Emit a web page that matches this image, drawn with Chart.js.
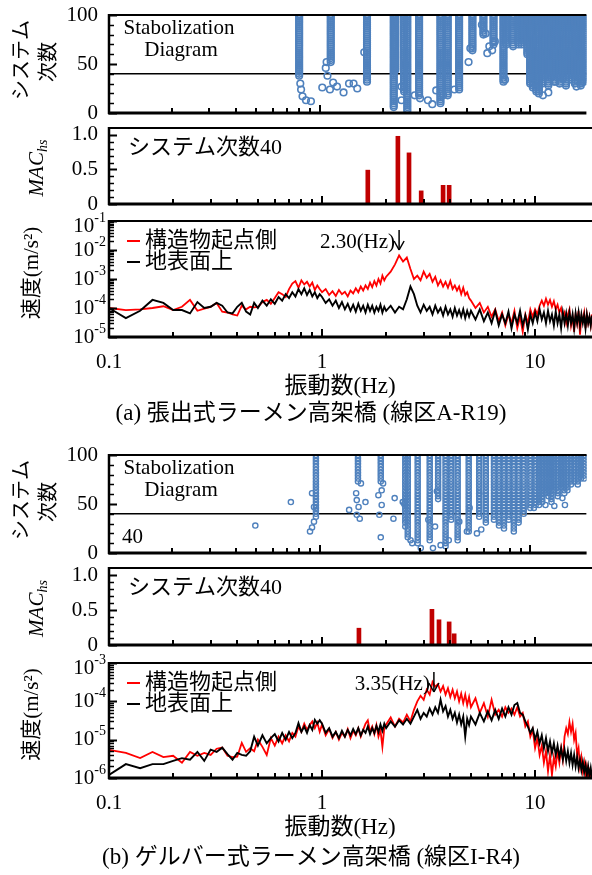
<!DOCTYPE html>
<html>
<head>
<meta charset="utf-8">
<script src="https://cdn.jsdelivr.net/npm/chart.js@4.4.0/dist/chart.umd.min.js"></script>
<style>
  body { margin: 0; background: #fff; width: 592px; height: 875px; position: relative; overflow: hidden; }
  canvas { position: absolute; left: 0; }
</style>
</head>
<body>
<canvas id="stabA" width="592" height="130" style="top:0px"></canvas>
<canvas id="macA" width="592" height="100" style="top:118px"></canvas>
<canvas id="specA" width="592" height="220" style="top:210px"></canvas>
<canvas id="stabB" width="592" height="130" style="top:440px"></canvas>
<canvas id="macB" width="592" height="100" style="top:558px"></canvas>
<canvas id="specB" width="592" height="225" style="top:650px"></canvas>
<script>
// ---- data ----
// frequency grid (Hz) shared by the four spectra
const freqs = [
  0.10, 0.12, 0.14, 0.16, 0.18, 0.20, 0.22, 0.24, 0.26, 0.28, 0.30, 0.32, 0.34, 0.36, 0.38, 0.40, 0.42, 0.44, 0.46, 0.48,
  0.50, 0.525, 0.55, 0.575, 0.60, 0.625, 0.65, 0.675, 0.70, 0.725, 0.75, 0.775, 0.80, 0.825, 0.85, 0.875, 0.90, 0.925, 0.95, 0.975,
  1.00, 1.04, 1.08, 1.12, 1.16, 1.20, 1.24, 1.28, 1.32, 1.36, 1.40, 1.44, 1.48, 1.52, 1.56, 1.60, 1.64, 1.68, 1.72, 1.76, 1.80, 1.84, 1.88, 1.92, 1.96,
  2.0, 2.1, 2.2, 2.3, 2.4, 2.5, 2.6, 2.7, 2.8, 2.9, 3.0, 3.1, 3.2, 3.3, 3.4, 3.5, 3.6, 3.7, 3.8, 3.9, 4.0, 4.1, 4.2, 4.3, 4.4, 4.5, 4.6, 4.7, 4.8, 4.9,
  5.0, 5.25, 5.5, 5.75, 6.0, 6.25, 6.5, 6.75, 7.0, 7.25, 7.5, 7.75, 8.0, 8.25, 8.5, 8.75, 9.0, 9.25, 9.5, 9.75,
  10.0, 10.25, 10.5, 10.75, 11.0, 11.25, 11.5, 11.75, 12.0, 12.25, 12.5, 12.75, 13.0, 13.25, 13.5, 13.75, 14.0, 14.25, 14.5, 14.75,
  15.0, 15.25, 15.5, 15.75, 16.0, 16.25, 16.5, 16.75, 17.0, 17.25, 17.5, 17.75, 18.0, 18.25, 18.5
];

// (a) 構造物起点側 / 地表面上
const redA = [
  1.0e-4, 0.85e-4, 0.9e-4, 1.0e-4, 1.15e-4, 0.85e-4, 1.1e-4, 1.9e-4, 0.8e-4, 0.95e-4, 1.1e-4, 1.5e-4, 0.75e-4, 0.7e-4, 0.6e-4, 0.55e-4, 1.2e-4, 0.9e-4, 1.1e-4, 1.05e-4,
  1.1e-4, 1.6e-4, 1.9e-4, 1.4e-4, 2.2e-4, 3.5e-4, 3.0e-4, 2.4e-4, 4.5e-4, 7.0e-4, 8.5e-4, 5.0e-4, 9.0e-4, 6.5e-4, 8.0e-4, 5.5e-4, 7.5e-4, 4.2e-4, 6.0e-4, 4.5e-4,
  3.5e-4, 4.5e-4, 2.8e-4, 3.8e-4, 2.6e-4, 4.2e-4, 3.0e-4, 3.6e-4, 2.5e-4, 4.0e-4, 3.2e-4, 4.8e-4, 3.5e-4, 5.5e-4, 4.0e-4, 6.0e-4, 4.5e-4, 7.5e-4, 5.2e-4, 8.5e-4, 6.0e-4, 1.0e-3, 7.0e-4, 1.3e-3, 9.0e-4,
  1.2e-3, 1.8e-3, 3.2e-3, 6.5e-3, 4.0e-3, 5.5e-3, 2.2e-3, 1.0e-3, 1.3e-3, 0.9e-3, 1.8e-3, 1.1e-3, 1.5e-3, 0.8e-3, 1.2e-3, 0.6e-3, 0.9e-3, 0.55e-3, 0.8e-3, 0.5e-3, 0.85e-3, 0.45e-3, 0.6e-3, 0.4e-3, 0.55e-3, 0.3e-3, 0.5e-3, 0.28e-3, 0.35e-3, 0.22e-3,
  1.8e-4, 1.0e-4, 1.5e-4, 0.7e-4, 1.1e-4, 0.5e-4, 0.9e-4, 0.35e-4, 0.7e-4, 0.25e-4, 0.6e-4, 0.3e-4, 0.8e-4, 0.2e-4, 0.5e-4, 0.15e-4, 0.6e-4, 0.3e-4, 0.9e-4, 0.5e-4,
  0.9e-4, 0.6e-4, 1.2e-4, 1.8e-4, 1.2e-4, 2.1e-4, 1.3e-4, 1.9e-4, 1.1e-4, 1.7e-4, 0.9e-4, 1.3e-4, 0.7e-4, 1.0e-4, 0.5e-4, 0.7e-4, 0.3e-4, 0.6e-4, 0.9e-4, 0.25e-4,
  0.5e-4, 0.15e-4, 0.6e-4, 0.3e-4, 0.8e-4, 0.12e-4, 0.5e-4, 0.4e-4, 0.7e-4, 0.2e-4, 0.6e-4, 0.3e-4, 0.5e-4, 0.25e-4, 0.6e-4
];
const blackA = [
  1.0e-4, 0.45e-4, 0.8e-4, 1.9e-4, 1.5e-4, 0.85e-4, 0.85e-4, 0.65e-4, 1.6e-4, 1.0e-4, 1.1e-4, 1.5e-4, 1.2e-4, 0.7e-4, 0.65e-4, 1.1e-4, 1.5e-4, 0.75e-4, 0.6e-4, 1.5e-4,
  1.0e-4, 1.8e-4, 1.2e-4, 2.0e-4, 1.4e-4, 2.4e-4, 1.8e-4, 3.0e-4, 2.2e-4, 3.5e-4, 2.5e-4, 4.5e-4, 3.0e-4, 4.8e-4, 2.8e-4, 4.2e-4, 2.5e-4, 3.5e-4, 2.2e-4, 3.0e-4,
  2.4e-4, 1.5e-4, 2.0e-4, 1.2e-4, 1.8e-4, 1.0e-4, 1.6e-4, 0.9e-4, 1.4e-4, 0.8e-4, 1.3e-4, 0.75e-4, 1.4e-4, 0.8e-4, 1.2e-4, 0.7e-4, 1.3e-4, 0.8e-4, 1.2e-4, 0.7e-4, 1.1e-4, 0.8e-4, 1.3e-4, 0.7e-4, 1.1e-4,
  0.8e-4, 1.2e-4, 0.7e-4, 1.1e-4, 0.9e-4, 2.0e-4, 5.5e-4, 3.0e-4, 1.2e-4, 0.7e-4, 1.3e-4, 0.8e-4, 1.1e-4, 0.6e-4, 1.2e-4, 0.7e-4, 1.0e-4, 0.55e-4, 1.1e-4, 0.6e-4, 0.9e-4, 0.5e-4, 1.0e-4, 0.55e-4, 0.85e-4, 0.5e-4, 0.9e-4, 0.45e-4, 0.8e-4, 0.5e-4,
  0.8e-4, 0.4e-4, 0.9e-4, 0.35e-4, 0.7e-4, 0.3e-4, 0.8e-4, 0.25e-4, 0.6e-4, 0.3e-4, 0.75e-4, 0.2e-4, 0.6e-4, 0.3e-4, 0.8e-4, 0.25e-4, 0.55e-4, 0.18e-4, 0.6e-4, 0.3e-4,
  0.7e-4, 0.35e-4, 0.9e-4, 0.4e-4, 0.7e-4, 0.3e-4, 0.8e-4, 0.35e-4, 0.6e-4, 0.25e-4, 0.75e-4, 0.3e-4, 0.6e-4, 0.2e-4, 0.7e-4, 0.3e-4, 0.65e-4, 0.25e-4, 0.7e-4, 0.3e-4,
  0.6e-4, 0.2e-4, 0.65e-4, 0.3e-4, 0.7e-4, 0.25e-4, 0.6e-4, 0.3e-4, 0.55e-4, 0.2e-4, 0.6e-4, 0.3e-4, 0.5e-4, 0.25e-4, 0.55e-4
];

// (b)
const redB = [
  5.4e-6, 4.5e-6, 3.3e-6, 4.8e-6, 3.5e-6, 3.8e-6, 2.5e-6, 4.8e-6, 3.8e-6, 4.5e-6, 4.0e-6, 5.8e-6, 6.2e-6, 3.8e-6, 3.5e-6, 3.6e-6, 8.2e-6, 4.8e-6, 6.0e-6, 5.0e-6,
  1.0e-5, 6.5e-6, 4.0e-6, 1.1e-5, 7.0e-6, 1.2e-5, 8.0e-6, 1.3e-5, 9.0e-6, 1.5e-5, 1.2e-5, 2.2e-5, 1.6e-5, 2.6e-5, 1.8e-5, 2.4e-5, 3.0e-5, 2.0e-5, 2.8e-5, 1.6e-5,
  2.5e-5, 1.3e-5, 1.9e-5, 1.1e-5, 1.6e-5, 1.0e-5, 1.5e-5, 1.2e-5, 1.9e-5, 1.1e-5, 1.7e-5, 1.3e-5, 2.0e-5, 1.2e-5, 1.8e-5, 2.6e-5, 3.2e-5, 1.6e-5, 2.2e-5, 1.4e-5, 2.4e-5, 1.2e-5, 1.8e-5, 6.5e-6, 2.0e-5,
  2.5e-5, 3.8e-5, 2.2e-5, 3.5e-5, 2.8e-5, 4.5e-5, 3.0e-5, 6.0e-5, 1.0e-4, 1.4e-4, 1.1e-4, 2.0e-4, 1.5e-4, 3.2e-4, 2.4e-4, 2.8e-4, 1.8e-4, 2.5e-4, 1.5e-4, 2.2e-4, 1.3e-4, 2.0e-4, 1.2e-4, 1.8e-4, 1.0e-4, 1.6e-4, 0.9e-4, 1.5e-4, 0.8e-4, 1.3e-4,
  7e-5, 1.2e-4, 5e-5, 9e-5, 4e-5, 1.1e-4, 4.5e-5, 6e-5, 4e-5, 7e-5, 5e-5, 6.5e-5, 4.5e-5, 7e-5, 4e-5, 5e-5, 2.2e-5, 3e-5, 1.2e-5, 1.8e-5,
  6e-6, 1.1e-5, 4e-6, 7e-6, 2.5e-6, 5e-6, 1.5e-6, 4e-6, 1.2e-6, 3.5e-6, 2e-6, 5e-6, 2.5e-6, 6e-6, 3e-6, 1.2e-5, 2.0e-5, 1.4e-5, 2.9e-5, 1.6e-5,
  2.6e-5, 1.0e-5, 1.5e-5, 4e-6, 6e-6, 2e-6, 3.5e-6, 1.5e-6, 2.5e-6, 1.1e-6, 2e-6, 1.0e-6, 1.5e-6, 1.0e-6, 1.3e-6
];
const blackB = [
  1.2e-6, 2.3e-6, 1.8e-6, 2.3e-6, 2.3e-6, 2.8e-6, 3.3e-6, 3.0e-6, 4.8e-6, 2.8e-6, 5.5e-6, 4.8e-6, 6.2e-6, 4.2e-6, 3.0e-6, 4.5e-6, 4.0e-6, 3.8e-6, 5.0e-6, 1.2e-5,
  7e-6, 1.3e-5, 8e-6, 1.1e-5, 1.4e-5, 9e-6, 1.5e-5, 1.0e-5, 1.6e-5, 1.1e-5, 1.5e-5, 2.7e-5, 1.6e-5, 2.2e-5, 1.5e-5, 2.4e-5, 1.8e-5, 3.3e-5, 2.6e-5, 3.2e-5,
  2.6e-5, 1.5e-5, 2.0e-5, 1.2e-5, 1.6e-5, 1.1e-5, 1.7e-5, 1.2e-5, 1.8e-5, 1.3e-5, 1.9e-5, 1.4e-5, 2.0e-5, 1.3e-5, 1.8e-5, 1.5e-5, 2.2e-5, 1.4e-5, 2.0e-5, 1.5e-5, 2.3e-5, 1.6e-5, 2.5e-5, 1.7e-5, 2.6e-5,
  2.0e-5, 3.0e-5, 2.2e-5, 3.2e-5, 2.5e-5, 3.5e-5, 2.6e-5, 4.0e-5, 6.0e-5, 3.5e-5, 5.0e-5, 4.0e-5, 6.5e-5, 4.5e-5, 7.0e-5, 5.0e-5, 1.1e-4, 5.5e-5, 7.5e-5, 4.0e-5, 6.0e-5, 3.5e-5, 5.0e-5, 2.8e-5, 4.5e-5, 2.5e-5, 4.0e-5, 1.2e-5, 3.5e-5, 2.4e-5,
  4e-5, 2.5e-5, 5e-5, 3e-5, 5.5e-5, 3.2e-5, 6e-5, 3.5e-5, 6.5e-5, 4e-5, 7e-5, 4.5e-5, 8e-5, 9e-5, 5e-5, 4.5e-5, 3e-5, 2.2e-5, 1.5e-5, 2e-5,
  1e-5, 1.6e-5, 8e-6, 1.3e-5, 6e-6, 1.1e-5, 5e-6, 9e-6, 4.5e-6, 8e-6, 4e-6, 7e-6, 3.5e-6, 6e-6, 3e-6, 5.5e-6, 2.8e-6, 5e-6, 2.5e-6, 4.5e-6,
  2.2e-6, 4e-6, 2e-6, 3.5e-6, 1.8e-6, 3e-6, 1.6e-6, 2.6e-6, 1.4e-6, 2.2e-6, 1.2e-6, 2e-6, 1.1e-6, 1.8e-6, 1.0e-6
];

// MAC_hs bars
const macFreqA = [1.64, 2.27, 2.56, 2.92, 3.70, 3.95];
const macValA = [0.49, 0.98, 0.74, 0.19, 0.27, 0.27];
const macFreqB = [1.49, 3.28, 3.54, 3.95, 4.17];
const macValB = [0.24, 0.51, 0.36, 0.33, 0.16];

// stabilization diagram: system orders, stable columns (freq, lowest order) and stray poles
const ordersA = [2, 4, 6, 8, 10, 12, 14, 16, 18, 20, 22, 24, 26, 28, 30, 32, 34, 36, 38, 40, 42, 44, 46, 48, 50,
  52, 54, 56, 58, 60, 62, 64, 66, 68, 70, 72, 74, 76, 78, 80, 82, 84, 86, 88, 90, 92, 94, 96, 98, 100];
const ordersB = [4, 7, 10, 13, 16, 19, 22, 25, 28, 31, 34, 37, 40, 43, 46, 49, 52, 55, 58, 61, 64, 67, 70,
  73, 76, 79, 82, 85, 88, 91, 94, 97, 100];

const stabColFreqA = [0.80, 1.13, 1.68, 2.25, 2.29, 2.52, 2.61, 2.97, 3.75, 4.06, 4.60, 5.32, 6.00, 6.70, 7.47, 7.70, 8.30, 8.80, 9.10, 9.40,
  9.70, 10.0, 10.3, 10.7, 11.0, 11.4, 11.8, 12.2, 12.6, 13.0, 13.4, 13.8, 14.3, 14.8, 15.3, 15.8, 16.3, 16.8, 17.4, 18.0];
const stabColLowA = [38, 52, 32, 6, 44, 22, 2, 18, 10, 18, 24, 64, 80, 70, 32, 70, 68, 70, 70, 74,
  60, 30, 26, 22, 20, 30, 38, 28, 36, 32, 40, 30, 36, 28, 40, 34, 30, 38, 28, 32];
const stabExtraFreqA = [0.81, 0.817, 0.83, 0.862, 0.91, 1.07, 1.08, 1.09, 1.16, 1.03, 1.12, 1.21, 1.30, 1.38, 1.45, 1.51, 1.63, 2.45, 2.45, 2.83,
  3.00, 3.27, 3.43, 3.58, 3.86, 4.37, 5.10, 5.20, 5.90, 6.15, 6.26, 6.40, 6.60, 6.80, 7.60, 10.4, 11.5, 12.2, 13.2, 14.3, 16.6, 17.7];
const stabExtraOrderA = [30, 24, 17, 13, 12, 46, 52, 38, 31, 26, 24, 27, 21, 30, 30, 25, 62, 27, 13, 18,
  15, 13, 9, 23, 18, 24, 52, 66, 90, 81, 61, 68, 64, 73, 34, 30, 18, 21, 32, 35, 27, 32];

const stabColFreqB = [0.96, 1.52, 1.95, 2.55, 2.62, 2.92, 3.33, 3.65, 3.96, 4.21, 4.52, 5.10, 5.72, 6.15, 6.72, 7.10, 7.50, 7.90, 8.35, 8.80,
  9.30, 10.0, 10.6, 11.0, 11.4, 11.8, 12.2, 12.6, 13.0, 13.5, 14.0, 14.5, 15.0, 15.6, 16.2, 16.8, 17.4, 18.0];
const stabColLowB = [37, 71, 71, 30, 16, 10, 13, 54, 7, 34, 13, 20, 35, 30, 34, 27, 24, 34, 22, 30,
  38, 46, 48, 48, 52, 60, 56, 50, 62, 56, 66, 60, 64, 70, 72, 68, 74, 76];
const stabExtraFreqB = [0.495, 0.73, 0.94, 0.92, 0.90, 0.92, 0.94, 1.49, 1.50, 1.53, 1.55, 1.38, 1.65, 1.57, 1.50, 1.97, 2.00, 1.90, 1.97, 1.92,
  1.95, 2.24, 2.27, 2.70, 2.75, 3.02, 2.55, 2.52, 2.48, 3.45, 3.28, 3.53, 3.60, 3.75, 4.10, 4.60, 5.00, 5.15, 5.58, 5.85,
  5.72, 10.4, 11.8, 13.0, 14.2, 14.6];
const stabExtraOrderB = [28, 52, 32, 26, 22, 61, 47, 61, 54, 47, 35, 44, 52, 71, 39, 64, 71, 59, 49, 39,
  16, 35, 56, 13, 10, 5, 27, 50, 52, 5, 34, 27, 63, 8, 13, 32, 22, 46, 20, 24,
  61, 46, 49, 48, 56, 49];

const selectedOrder = 40;
const peakA = 2.30, peakB = 3.35;

// axis ticks / labels
const xTickVals = [0.1, 1, 10];
const xTickText = ['0.1', '1', '10'];
const stabYMajor = [0, 50, 100];
const stabYMinor = [10, 20, 30, 40, 60, 70, 80, 90];
const macYMajor = [0, 0.5, 1.0];
const macYText = ['0', '0.5', '1.0'];
const macYMinor = [0.1, 0.2, 0.3, 0.4, 0.6, 0.7, 0.8, 0.9];
const specExpA = [-5, -4, -3, -2, -1];
const specExpB = [-6, -5, -4, -3];

// ---- drawing helpers ----
const SERIF = '"Liberation Serif", "Noto Sans CJK JP", serif';
const BLUE = '#4F81BD';

function seg(ctx, x1, y1, x2, y2) {
  ctx.beginPath(); ctx.moveTo(x1, y1); ctx.lineTo(x2, y2); ctx.stroke();
}
function label(ctx, s, x, y, size, align, style) {
  ctx.fillStyle = '#000';
  ctx.font = (style ? style + ' ' : '') + size + 'px ' + SERIF;
  ctx.textAlign = align || 'center';
  ctx.textBaseline = 'middle';
  ctx.fillText(s, x, y);
}
function vlabel(ctx, s, x, y, size) {
  ctx.save(); ctx.translate(x, y); ctx.rotate(-Math.PI / 2);
  label(ctx, s, 0, 0, size, 'center');
  ctx.restore();
}
function logMinor(exps) {
  const out = [];
  for (let i = 0; i < exps.length - 1; i++)
    for (let k = 2; k <= 9; k++) out.push(k * Math.pow(10, exps[i]));
  return out;
}

function drawFrame(ctx, a, xs, ys, yMajor, yMinor) {
  ctx.strokeStyle = '#000';
  ctx.lineWidth = 2;
  for (const d of xTickVals) {
    for (let k = 1; k <= 9; k++) {
      const v = d * k;
      if (v < xs.min * 0.999 || v > xs.max) continue;
      const px = Math.round(xs.getPixelForValue(v));
      seg(ctx, px, a.bottom, px, a.bottom - (k === 1 ? 8 : 5));
    }
  }
  for (const v of yMajor) {
    const py = Math.round(ys.getPixelForValue(v)) + 0.5;
    seg(ctx, a.left, py, a.left + 8, py);
  }
  ctx.lineWidth = 1.5;
  for (const v of yMinor) {
    const py = Math.round(ys.getPixelForValue(v)) + 0.5;
    seg(ctx, a.left, py, a.left + 5, py);
  }
  ctx.lineWidth = 3; seg(ctx, a.left - 1, a.bottom, a.right, a.bottom);
  ctx.lineWidth = 2.5; seg(ctx, a.left, a.top - 1, a.left, a.bottom + 1);
  ctx.lineWidth = 2; seg(ctx, a.left, a.top, a.right, a.top);
}

function decor(draw) {
  return {
    id: 'decor',
    afterDatasetsDraw(chart) {
      const { ctx, chartArea: a, scales } = chart;
      ctx.save();
      draw(ctx, a, scales.x, scales.y);
      ctx.restore();
    }
  };
}

function baseOptions(pad, yScale) {
  return {
    responsive: false,
    animation: false,
    events: [],
    devicePixelRatio: 1,
    layout: { padding: pad },
    plugins: { legend: { display: false }, tooltip: { enabled: false } },
    scales: {
      x: { type: 'logarithmic', min: 0.1, max: 18.5, display: false },
      y: Object.assign({ display: false }, yScale)
    }
  };
}

// ---- stabilization diagrams ----
function stabPoints(orders, colF, colLow, exF, exO) {
  const pts = [];
  colF.forEach((f, i) => orders.forEach(o => { if (o >= colLow[i]) pts.push({ x: f, y: o }); }));
  exF.forEach((f, i) => pts.push({ x: f, y: exO[i] }));
  return pts;
}

function stabChart(id, pts, radius, border, showOrderText) {
  new Chart(document.getElementById(id), {
    type: 'scatter',
    data: {
      datasets: [
        { data: pts, pointRadius: radius, pointBorderWidth: border, borderColor: BLUE,
          backgroundColor: 'rgba(255,255,255,0)', order: 1 },
        { type: 'line', data: [{ x: 0.1, y: selectedOrder }, { x: 18.5, y: selectedOrder }],
          borderColor: '#000', borderWidth: 1.5, pointRadius: 0, order: 2 }
      ]
    },
    options: baseOptions({ left: 109, right: 0, top: 15, bottom: 17 }, { type: 'linear', min: 0, max: 100 }),
    plugins: [decor((ctx, a, xs, ys) => {
      drawFrame(ctx, a, xs, ys, stabYMajor, stabYMinor);
      stabYMajor.forEach(v => label(ctx, String(v), 98, ys.getPixelForValue(v), 21, 'right'));
      vlabel(ctx, 'システム', 23, (a.top + a.bottom) / 2 - 4, 20);
      vlabel(ctx, '次数', 50, (a.top + a.bottom) / 2 - 2, 20);
      label(ctx, 'Stabolization', 179, a.top + 13, 21, 'center');
      label(ctx, 'Diagram', 181, a.top + 35, 21, 'center');
      if (showOrderText) label(ctx, String(selectedOrder), 122, a.bottom - 16, 21, 'left');
    })]
  });
}

// ---- MAC bars ----
function macChart(id, fs, vals, padBottom) {
  new Chart(document.getElementById(id), {
    type: 'bar',
    data: {
      datasets: [{ data: fs.map((f, i) => ({ x: f, y: vals[i] })), backgroundColor: '#C00000', barThickness: 4 }]
    },
    options: baseOptions({ left: 109, right: 0, top: 10, bottom: padBottom }, { type: 'linear', min: 0, max: 1.1 }),
    plugins: [decor((ctx, a, xs, ys) => {
      drawFrame(ctx, a, xs, ys, macYMajor, macYMinor);
      macYMajor.forEach((v, i) => label(ctx, macYText[i], 98, ys.getPixelForValue(v), 21, 'right'));
      label(ctx, 'システム次数40', 128, a.top + 20, 22, 'left');
      // MAC_hs
      ctx.save();
      ctx.translate(37, (a.top + a.bottom) / 2 + 2);
      ctx.rotate(-Math.PI / 2);
      ctx.font = 'italic 21px ' + SERIF;
      const w1 = ctx.measureText('MAC').width;
      ctx.font = 'italic 14px ' + SERIF;
      const w2 = ctx.measureText('hs').width;
      const x0 = -(w1 + w2) / 2;
      label(ctx, 'MAC', x0, 0, 21, 'left', 'italic');
      label(ctx, 'hs', x0 + w1, 6, 14, 'left', 'italic');
      ctx.restore();
    })]
  });
}

// ---- spectra ----
function specChart(id, red, black, yMin, yMax, exps, pad, peak, caption, capDy) {
  const minor = logMinor(exps);
  const major = exps.map(e => Math.pow(10, e));
  new Chart(document.getElementById(id), {
    type: 'line',
    data: {
      datasets: [
        { label: '構造物起点側', data: freqs.map((f, i) => ({ x: f, y: red[i] })),
          borderColor: '#FF0000', borderWidth: 1.8, pointRadius: 0, order: 2 },
        { label: '地表面上', data: freqs.map((f, i) => ({ x: f, y: black[i] })),
          borderColor: '#000000', borderWidth: 1.9, pointRadius: 0, order: 1 }
      ]
    },
    options: baseOptions(pad, { type: 'logarithmic', min: yMin, max: yMax }),
    plugins: [decor((ctx, a, xs, ys) => {
      drawFrame(ctx, a, xs, ys, major, minor);
      // y labels 10^n
      exps.forEach(e => {
        const y = Math.max(ys.getPixelForValue(Math.pow(10, e)), a.top + 5);
        const ex = String(e);
        ctx.font = '14px ' + SERIF;
        const we = ctx.measureText(ex).width;
        ctx.font = '21px ' + SERIF;
        const wb = ctx.measureText('10').width;
        label(ctx, '10', 106 - we - wb, y, 21, 'left');
        label(ctx, ex, 106 - we, y - 8, 14, 'left');
      });
      xTickVals.forEach((v, i) => label(ctx, xTickText[i], xs.getPixelForValue(v), a.bottom + 25, 21, 'center'));
      vlabel(ctx, '速度(m/s²)', 32, (a.top + a.bottom) / 2 - 6, 21);
      label(ctx, '振動数(Hz)', 340, a.bottom + 50, 23, 'center');
      label(ctx, caption, 311, a.bottom + capDy, 23, 'center');
      // legend
      ctx.lineWidth = 2;
      ctx.strokeStyle = '#FF0000'; seg(ctx, a.left + 18, a.top + 20, a.left + 31, a.top + 20);
      ctx.strokeStyle = '#000'; seg(ctx, a.left + 18, a.top + 41, a.left + 31, a.top + 41);
      label(ctx, '構造物起点側', a.left + 36, a.top + 20, 22, 'left');
      label(ctx, '地表面上', a.left + 36, a.top + 41, 22, 'left');
      // peak arrow
      const px = xs.getPixelForValue(peak);
      const y1 = a.top + 9, y2 = a.top + 29;
      ctx.lineWidth = 1.5; ctx.strokeStyle = '#000';
      seg(ctx, px, y1, px, y2);
      seg(ctx, px - 5, y2 - 9, px, y2);
      seg(ctx, px + 5, y2 - 9, px, y2);
      label(ctx, peak.toFixed(2) + '(Hz)', px - 4, a.top + 21, 21, 'right');
    })]
  });
}

stabChart('stabA', stabPoints(ordersA, stabColFreqA, stabColLowA, stabExtraFreqA, stabExtraOrderA), 3.3, 1.6, false);
macChart('macA', macFreqA, macValA, 14);
specChart('specA', redA, blackA, 1e-5, 1e-1, specExpA, { left: 109, right: 0, top: 11, bottom: 93 },
  peakA, '(a) 張出式ラーメン高架橋 (線区A-R19)', 77);

stabChart('stabB', stabPoints(ordersB, stabColFreqB, stabColLowB, stabExtraFreqB, stabExtraOrderB), 2.6, 1.4, true);
macChart('macB', macFreqB, macValB, 13);
specChart('specB', redB, blackB, 1e-6, 1e-3, specExpB, { left: 109, right: 0, top: 13, bottom: 97 },
  peakB, '(b) ゲルバー式ラーメン高架橋 (線区I-R4)', 80);
</script>
</body>
</html>
